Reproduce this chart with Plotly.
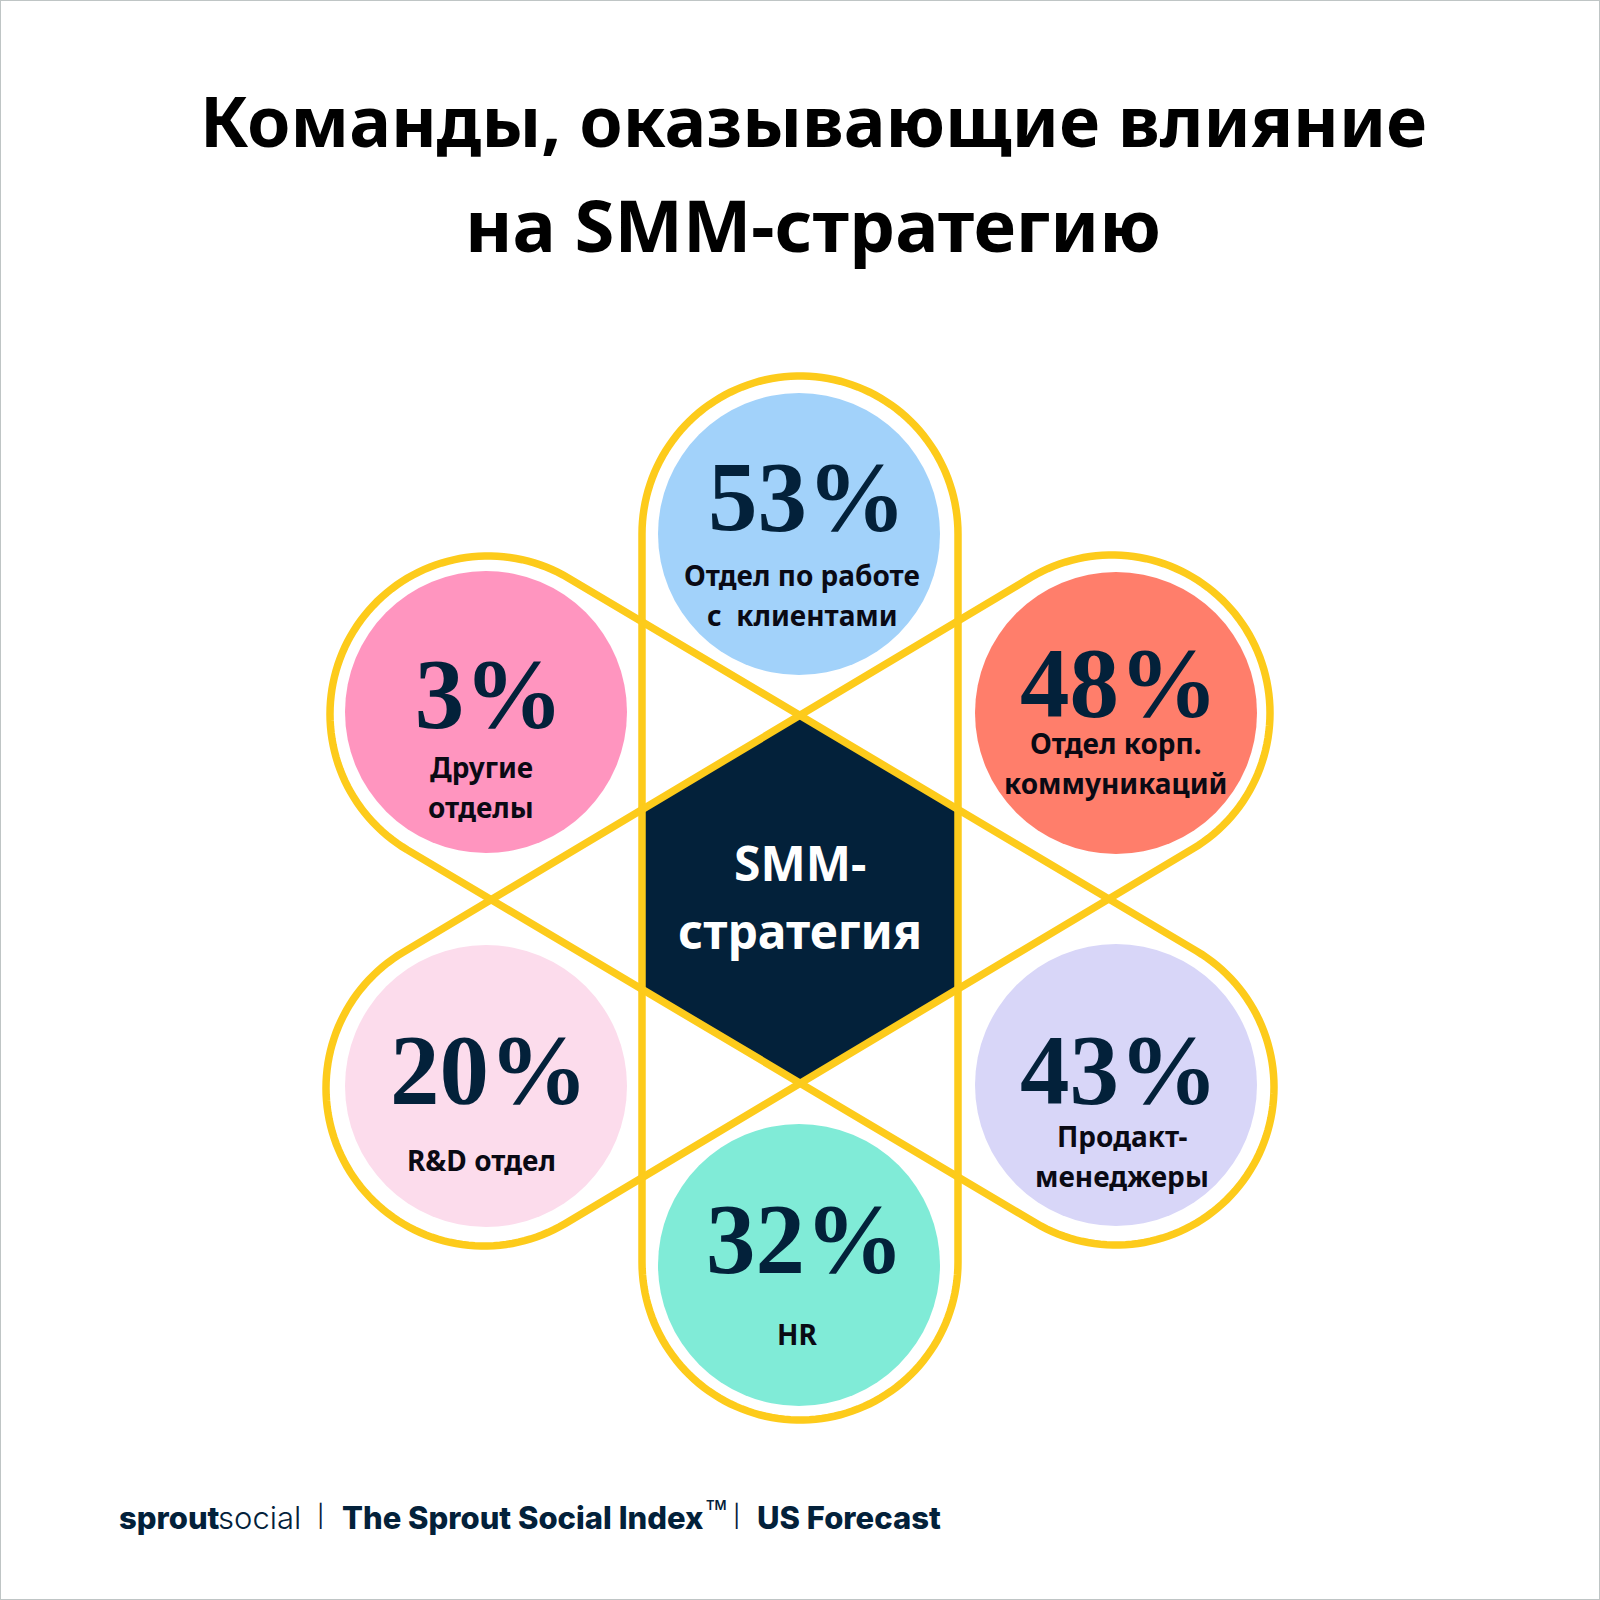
import numpy as np
import plotly.graph_objects as go

# data
teams = ["Отдел по работе<br>с  клиентами", "Отдел корп.<br>коммуникаций", "Продакт-<br>менеджеры",
         "HR", "R&D отдел", "Другие<br>отделы"]
shares = [53, 48, 43, 32, 20, 3]
colors = ["#A2D2FA", "#FF7E6B", "#D8D6F8", "#80EBD7", "#FCDCEC", "#FF95BF"]
center_label = ["SMM-", "стратегия"]
title_lines = ["Команды, оказывающие влияние", "на SMM-стратегию"]

# layout positions, px on the 1600 canvas
circle_x = [799, 1116, 1116, 799, 486, 486]
circle_y = [534, 713, 1085, 1265, 1086, 712]
pct_x = [807, 1119, 1119, 805, 489, 489]
pct_y = [505, 691, 1078, 1247, 1078, 702]
label_x = [802, 1116, 1122, 797, 481, 481]
label_y = [595, 763, 1156, 1334, 1160, 787]

NAVY = "#03213A"
YELLOW = "#FDCB1B"
CX, CY = 800, 898


def stadium(a, b, r=158):
    # outline around two end circles, as one closed line
    ax, ay = a
    bx, by = b
    ang = np.arctan2(by - ay, bx - ax)
    t1 = np.linspace(ang + np.pi / 2, ang + 3 * np.pi / 2, 80)
    t2 = np.linspace(ang - np.pi / 2, ang + np.pi / 2, 80)
    xs = np.concatenate([ax + r * np.cos(t1), bx + r * np.cos(t2), [ax + r * np.cos(t1[0])]])
    ys = np.concatenate([ay + r * np.sin(t1), by + r * np.sin(t2), [ay + r * np.sin(t1[0])]])
    return xs, ys


fig = go.Figure()

hex_ang = np.radians(np.arange(-90, 271, 60))
fig.add_trace(go.Scatter(x=CX + 183 * np.cos(hex_ang), y=CY + 183 * np.sin(hex_ang), mode="lines",
                         fill="toself", fillcolor=NAVY, line=dict(width=0), hoverinfo="skip"))

for a, b in [((800, 534), (800, 1262)), ((488, 714), (1116, 1087)), ((1112, 713), (484, 1088))]:
    xs, ys = stadium(a, b)
    fig.add_trace(go.Scatter(x=xs, y=ys, mode="lines", hoverinfo="skip",
                             line=dict(color=YELLOW, width=7.5, simplify=False)))

fig.add_trace(go.Scatter(x=circle_x, y=circle_y, mode="markers",
                         marker=dict(size=282, color=colors, line=dict(width=0), opacity=1)))

fig.add_trace(go.Scatter(x=pct_x, y=pct_y, mode="text", text=[f"{s}%" for s in shares],
                         textposition="middle center",
                         textfont=dict(family="Liberation Serif", size=99, color=NAVY, weight=700)))

for x, y, t in zip(label_x, label_y, teams):
    lines = t.split("<br>")
    for i, line in enumerate(lines):
        fig.add_annotation(x=x, y=y + (i - (len(lines) - 1) / 2) * 40, text=line, showarrow=False,
                           font=dict(family="Noto Sans", size=28, color="#0A0A14", weight=700))

for y, t in zip([862, 930], center_label):
    fig.add_annotation(x=800, y=y, text=t, showarrow=False,
                       font=dict(family="Noto Sans", size=48, color="white", weight=700))

for y, s, t in zip([120, 223], [70, 72.5], title_lines):
    fig.add_annotation(x=813, y=y, text=t, showarrow=False,
                       font=dict(family="Noto Sans", size=s, color="black", weight=700))

# footer
FOOT_Y = 1517
fig.add_annotation(x=117, y=FOOT_Y, text="sprout", showarrow=False, xanchor="left",
                   font=dict(family="Inter", size=31, color=NAVY, weight=800))
fig.add_annotation(x=216, y=FOOT_Y, text="social", showarrow=False, xanchor="left",
                   font=dict(family="Inter", size=31, color=NAVY, weight=300))
fig.add_annotation(x=320, y=FOOT_Y - 2, text="|", showarrow=False,
                   font=dict(family="Inter", size=22, color=NAVY, weight=400))
fig.add_annotation(x=340, y=FOOT_Y, text="The Sprout Social Index", showarrow=False, xanchor="left",
                   font=dict(family="Inter", size=31, color=NAVY, weight=800))
fig.add_annotation(x=704, y=FOOT_Y - 12, text="TM", showarrow=False, xanchor="left",
                   font=dict(family="Inter", size=13, color=NAVY, weight=600))
fig.add_annotation(x=736, y=FOOT_Y - 2, text="|", showarrow=False,
                   font=dict(family="Inter", size=22, color=NAVY, weight=400))
fig.add_annotation(x=755, y=FOOT_Y, text="US Forecast", showarrow=False, xanchor="left",
                   font=dict(family="Inter", size=31, color=NAVY, weight=800))

fig.add_shape(type="rect", x0=0, y0=0, x1=1600, y1=1600, line=dict(color="#BFC5C5", width=2))

fig.update_layout(width=1600, height=1600, margin=dict(l=0, r=0, t=0, b=0), showlegend=False,
                  paper_bgcolor="white", plot_bgcolor="white", hovermode=False)
fig.update_xaxes(range=[0, 1600], visible=False)
fig.update_yaxes(range=[1600, 0], visible=False)

fig.write_html("out.html", config={"displayModeBar": False},
               post_script="document.body.style.margin = '0';")
